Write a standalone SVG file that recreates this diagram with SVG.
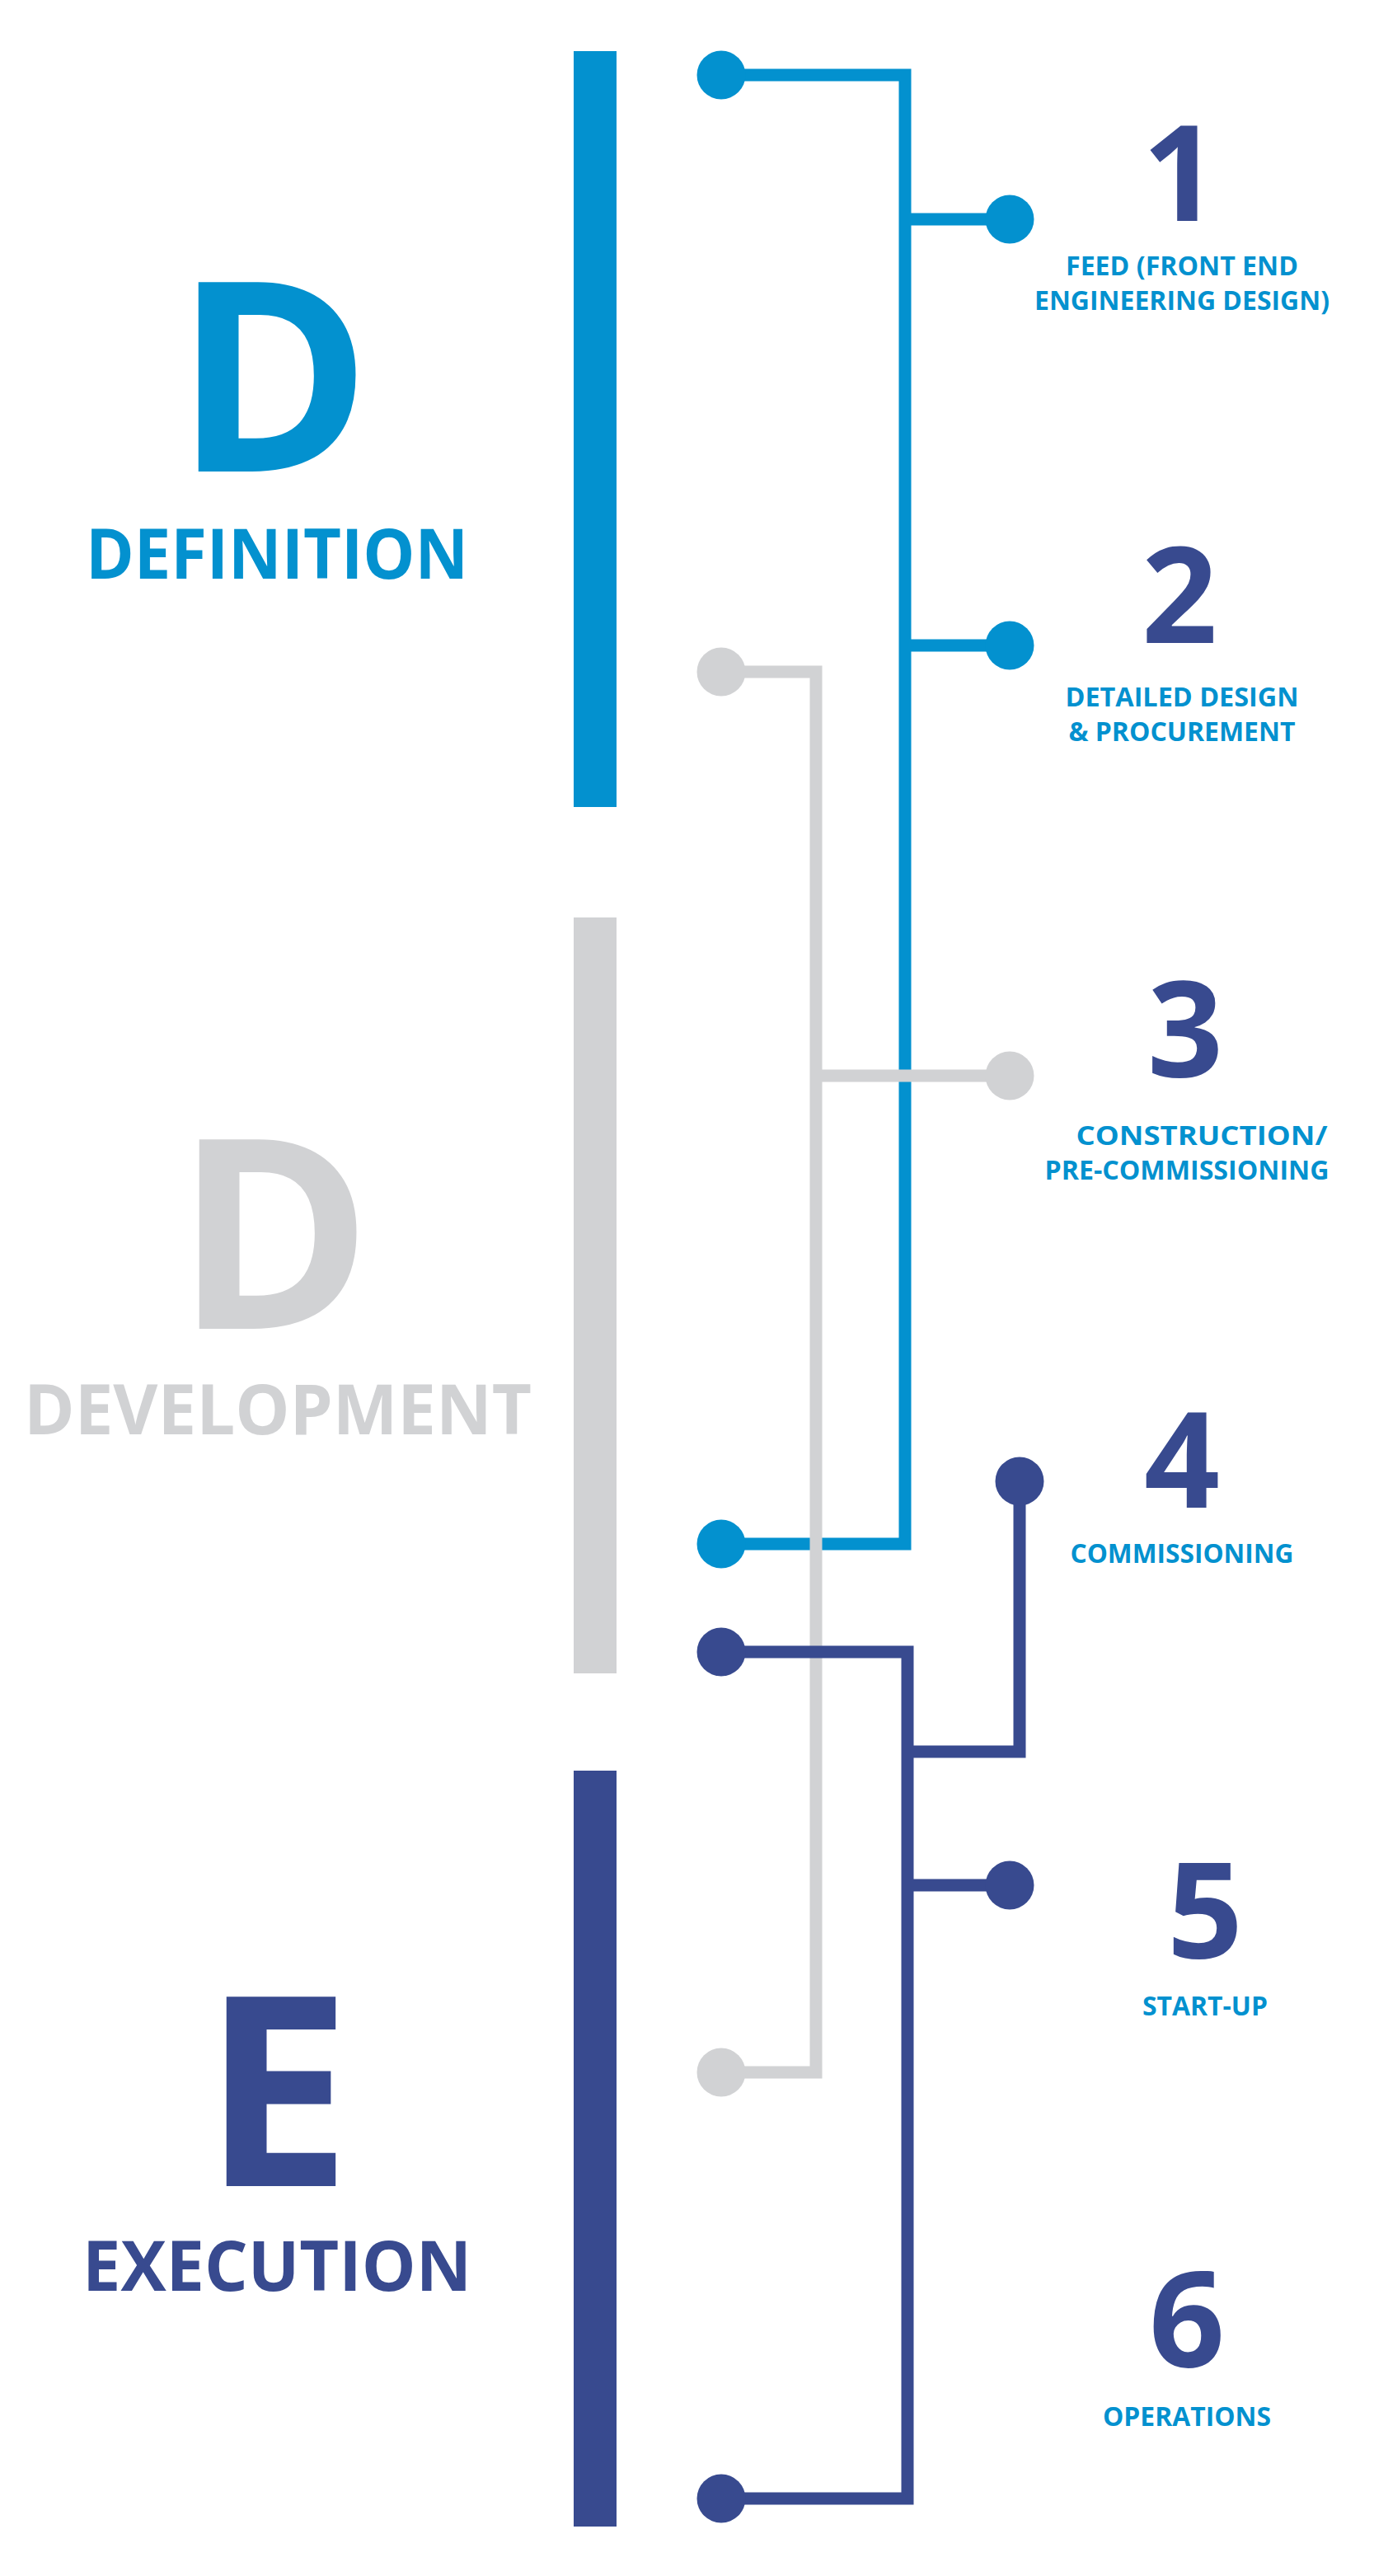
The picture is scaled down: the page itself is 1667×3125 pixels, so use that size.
<svg xmlns="http://www.w3.org/2000/svg" width="1667" height="3125" viewBox="0 0 1667 3125">
<style>
.blue{fill:#0391cf}
.gray{fill:#d1d2d4}
.navy{fill:#384a8f}
.lb{fill:none;stroke:#0391cf;stroke-width:15}
.lg{fill:none;stroke:#d1d2d4;stroke-width:15}
.ln{fill:none;stroke:#384a8f;stroke-width:15}
.big{font-family:"Open Sans","Noto Sans","Liberation Sans",sans-serif;font-weight:700;font-size:322px;text-anchor:middle}
.phase{font-family:"Open Sans","Noto Sans","Liberation Sans",sans-serif;font-weight:700;font-size:85px;text-anchor:middle}
.num{font-family:"Open Sans","Noto Sans","Liberation Sans",sans-serif;font-weight:700;font-size:161px;text-anchor:middle;fill:#384a8f}
.lab{font-family:"Open Sans","Noto Sans","Liberation Sans",sans-serif;font-weight:700;font-size:32px;text-anchor:middle;fill:#0391cf}
</style>
<rect width="1667" height="3125" fill="#ffffff"/>

<g id="phase-definition">
<rect class="blue" x="696" y="62" width="52" height="917"/>
<text class="big blue" x="331" y="572">D</text>
<text class="phase blue" x="336" y="702" textLength="464" lengthAdjust="spacingAndGlyphs">DEFINITION</text>
</g>
<g id="phase-development">
<rect class="gray" x="696" y="1113" width="52" height="917"/>
<text class="big gray" x="332" y="1612">D</text>
<text class="phase gray" x="337" y="1740" textLength="616" lengthAdjust="spacingAndGlyphs">DEVELOPMENT</text>
</g>
<g id="phase-execution">
<rect class="navy" x="696" y="2148" width="52" height="917"/>
<text class="big navy" x="336" y="2652">E</text>
<text class="phase navy" x="336" y="2779" textLength="472" lengthAdjust="spacingAndGlyphs">EXECUTION</text>
</g>

<g id="connectors">
<path class="lb" d="M875,91 H1098 V1873 H875 M1098,266 H1225 M1098,783 H1225"/>
<circle class="blue" cx="875" cy="91" r="29.5"/>
<circle class="blue" cx="875" cy="1873" r="29.5"/>
<path class="lg" d="M875,815 H990 V2514 H875 M990,1305 H1225"/>
<circle class="gray" cx="875" cy="815" r="29.5"/>
<circle class="gray" cx="875" cy="2514" r="29.5"/>
<path class="ln" d="M875,2004 H1101 V3031 H875 M1101,2125 H1237 V1797 M1101,2287 H1225"/>
<circle class="navy" cx="875" cy="2004" r="29.5"/>
<circle class="navy" cx="875" cy="3031" r="29.5"/>
</g>

<g id="step-1">
<circle class="blue" cx="1225" cy="266" r="29.5"/>
<text class="num" x="1432" y="268">1</text>
<text class="lab" x="1434" y="334" textLength="282" lengthAdjust="spacingAndGlyphs">FEED (FRONT END</text>
<text class="lab" x="1434" y="376" textLength="358" lengthAdjust="spacingAndGlyphs">ENGINEERING DESIGN)</text>
</g>
<g id="step-2">
<circle class="blue" cx="1225" cy="783" r="29.5"/>
<text class="num" x="1431" y="780">2</text>
<text class="lab" x="1434" y="857" textLength="283" lengthAdjust="spacingAndGlyphs">DETAILED DESIGN</text>
<text class="lab" x="1434" y="899" textLength="275" lengthAdjust="spacingAndGlyphs">&amp; PROCUREMENT</text>
</g>
<g id="step-3">
<circle class="gray" cx="1225" cy="1305" r="29.5"/>
<text class="num" x="1438" y="1306">3</text>
<text class="lab" x="1458" y="1389" textLength="305" lengthAdjust="spacingAndGlyphs">CONSTRUCTION/</text>
<text class="lab" x="1440" y="1431" textLength="345" lengthAdjust="spacingAndGlyphs">PRE-COMMISSIONING</text>
</g>
<g id="step-4">
<circle class="navy" cx="1237" cy="1797" r="29.5"/>
<text class="num" x="1434" y="1829">4</text>
<text class="lab" x="1434" y="1896" textLength="271" lengthAdjust="spacingAndGlyphs">COMMISSIONING</text>
</g>
<g id="step-5">
<circle class="navy" cx="1225" cy="2287" r="29.5"/>
<text class="num" x="1462" y="2375">5</text>
<text class="lab" x="1462" y="2445" textLength="152" lengthAdjust="spacingAndGlyphs">START-UP</text>
</g>
<g id="step-6">
<text class="num" x="1440" y="2871">6</text>
<text class="lab" x="1440" y="2943" textLength="204" lengthAdjust="spacingAndGlyphs">OPERATIONS</text>
</g>
</svg>
